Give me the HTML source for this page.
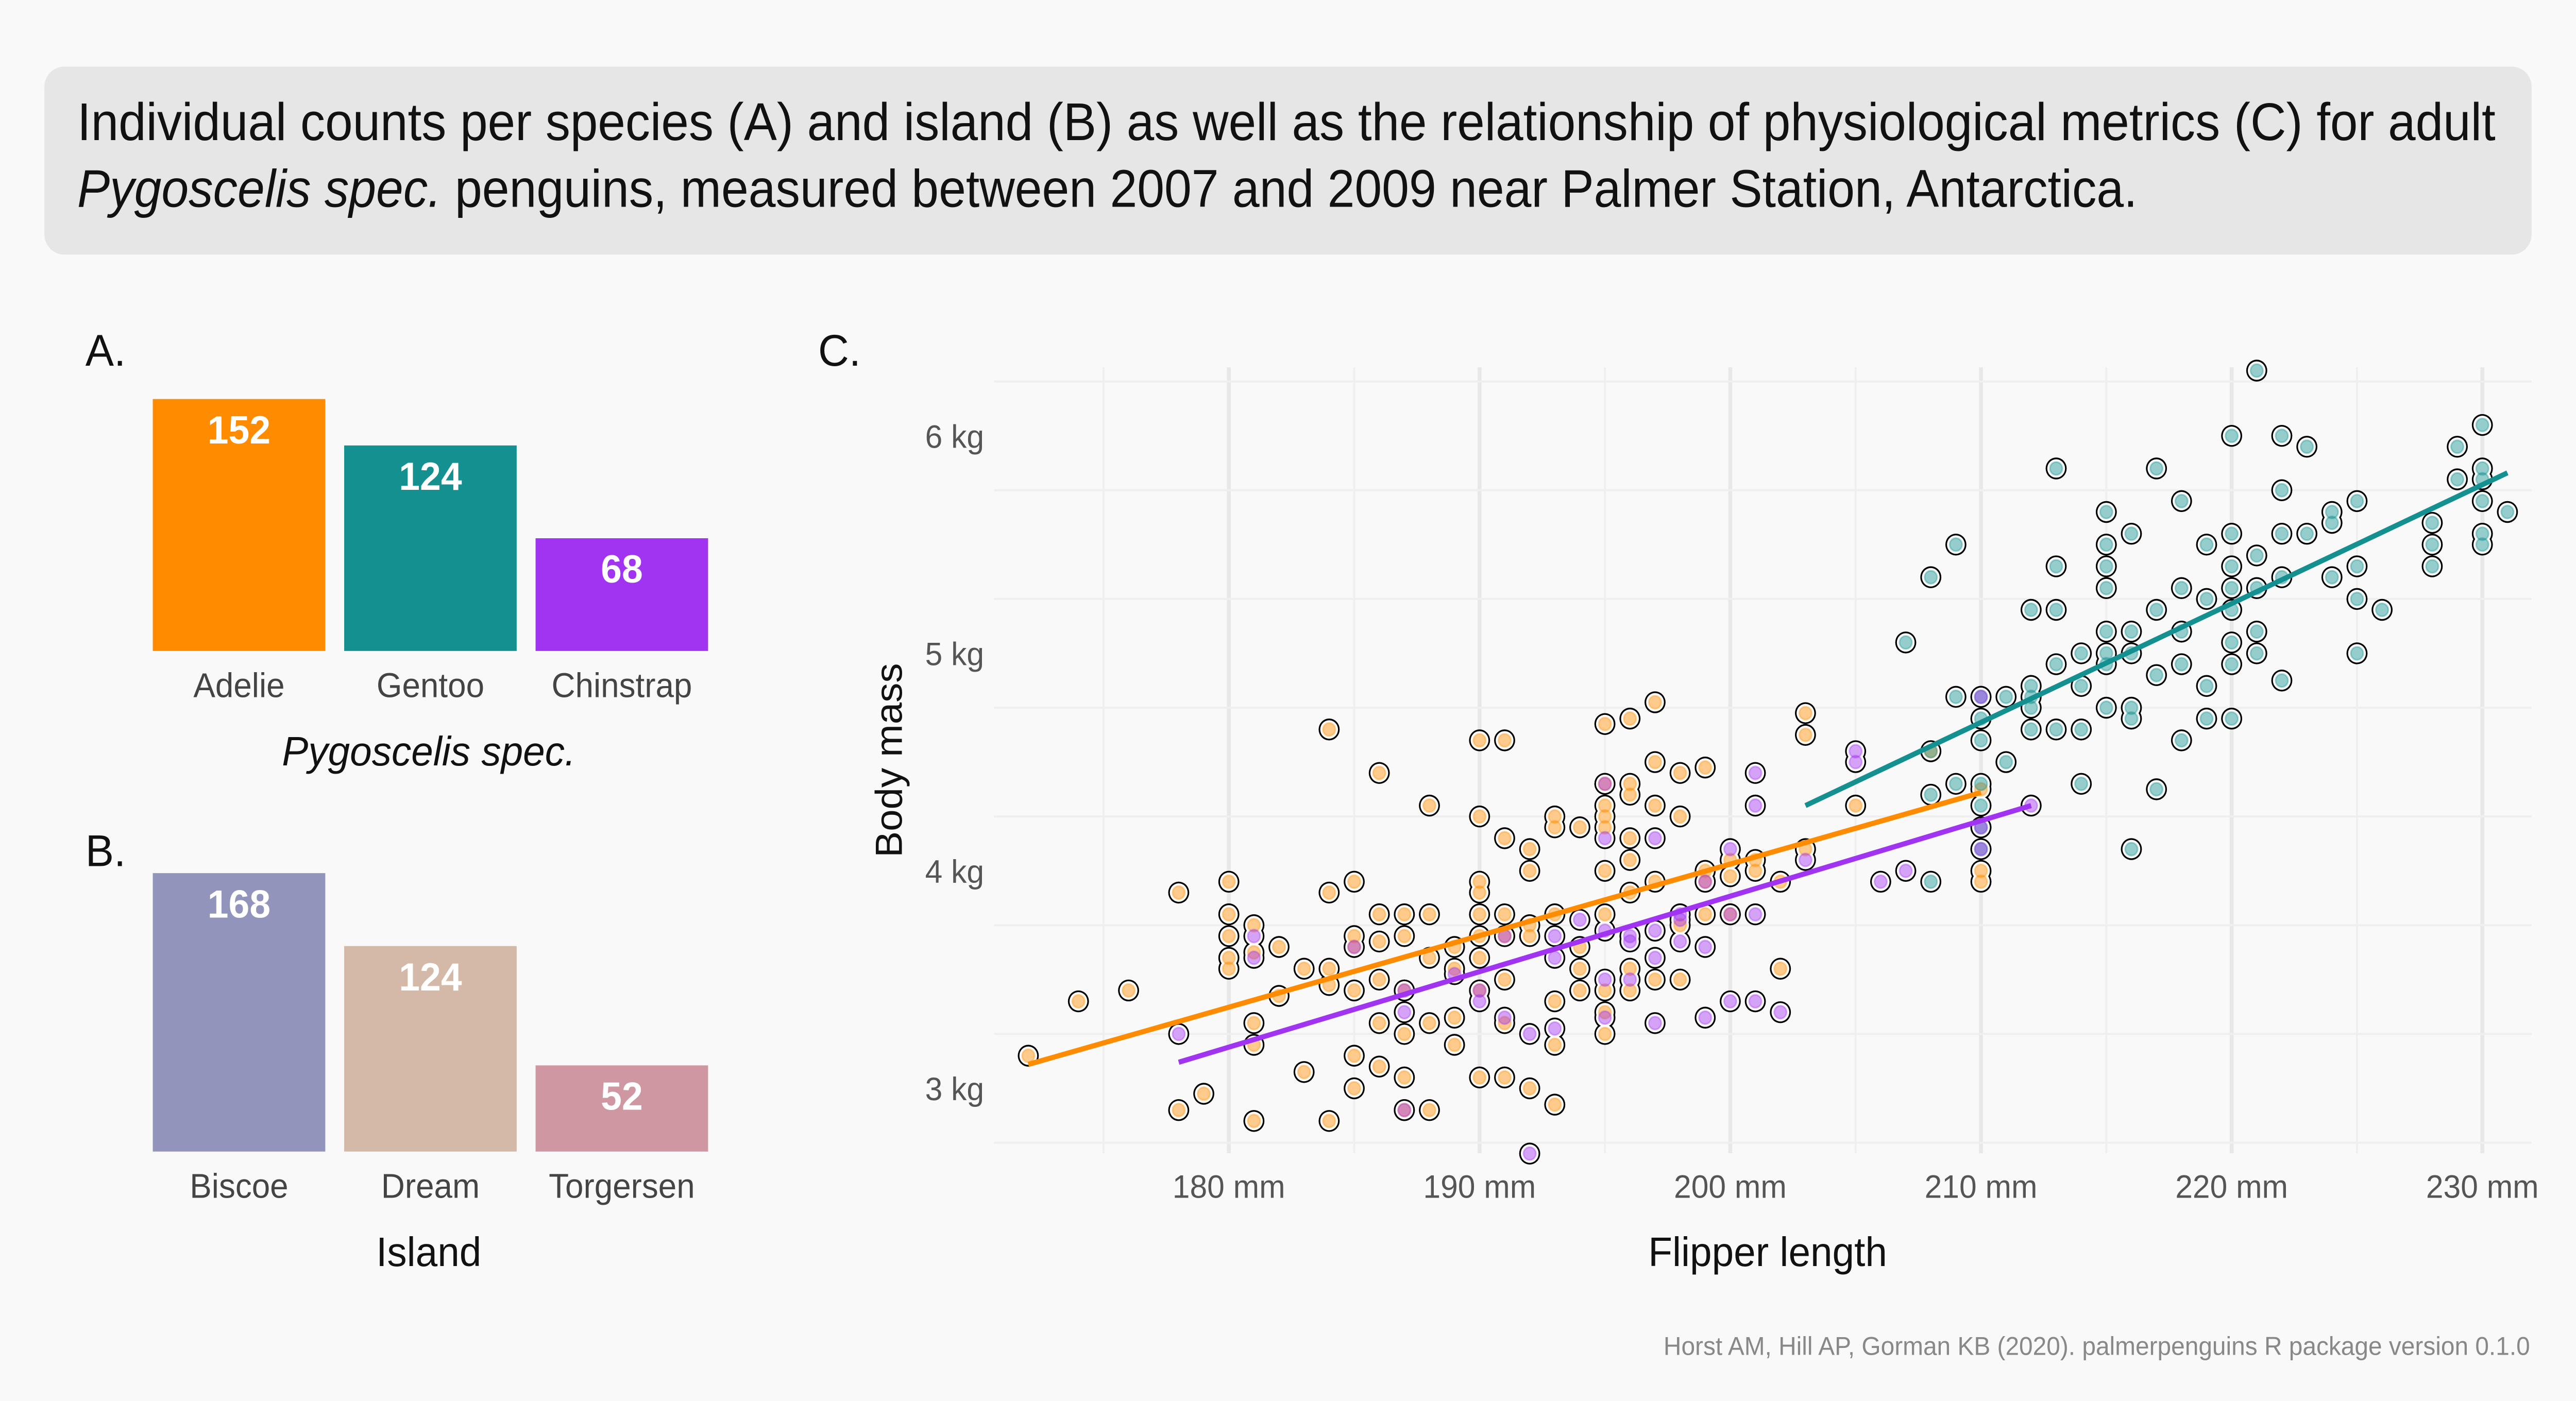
<!DOCTYPE html>
<html><head><meta charset="utf-8"><style>
html,body{margin:0;padding:0;background:#f9f9f9;overflow:hidden;width:100vw;height:100vh;}
svg{display:block;position:fixed;left:0;top:0;width:100vw;height:100vh;font-family:"Liberation Sans Narrow","Liberation Sans",sans-serif;}
</style></head><body>
<svg id="chart" viewBox="0 0 1568 820" preserveAspectRatio="none" xmlns="http://www.w3.org/2000/svg">
<rect x="0" y="0" width="1568" height="820" fill="#f9f9f9"/>
<rect x="27" y="39" width="1514" height="110" rx="12" fill="#e6e6e6"/>
<text x="47" y="82" font-size="31" fill="#111" textLength="1472" lengthAdjust="spacingAndGlyphs">Individual counts per species (A) and island (B) as well as the relationship of physiological metrics (C) for adult</text>
<text x="47" y="121" font-size="31" fill="#111" textLength="1254" lengthAdjust="spacingAndGlyphs"><tspan font-style="italic">Pygoscelis spec.</tspan> penguins, measured between 2007 and 2009 near Palmer Station, Antarctica.</text>
<text x="52" y="214" font-size="26" fill="#111">A.</text>
<text x="52" y="507" font-size="26" fill="#111">B.</text>
<text x="498" y="214" font-size="26" fill="#111">C.</text>
<g id="barsA"></g>
<g id="barsB"></g>
<g id="scatter"></g>
<text x="541" y="453" font-size="23" fill="#111" text-anchor="middle" transform="rotate(-90 541 445)">Body mass</text>
<text x="1076" y="741" font-size="24" fill="#111" text-anchor="middle">Flipper length</text>
<text x="1540" y="793" font-size="15" fill="#888" text-anchor="end">Horst AM, Hill AP, Gorman KB (2020). palmerpenguins R package version 0.1.0</text>
</svg>
<script>
const NS="http://www.w3.org/2000/svg";
const speciesCats=["Adelie","Gentoo","Chinstrap"];
const speciesCounts=[152,124,68];
const speciesColors=["#ff8c00","#159090","#a034f0"];
const islandCats=["Biscoe","Dream","Torgersen"];
const islandCounts=[168,124,52];
const islandColors=["#9394bc","#d4b9a8","#cf97a2"];

const adelie=[[172,3150],[174,3400],[176,3450],[178,3900],[178,2900],[179,2975],[180,3950],[180,3800],[180,3700],[180,3600],[180,3550],[181,3300],[181,3750],[181,3625],[181,3200],[181,2850],[182,3425],[183,3075],[183,3550],[184,3550],[184,3900],[184,4650],[184,3475],[184,2850],[185,3950],[185,3700],[185,3650],[185,3450],[185,3150],[185,3000],[186,3800],[186,3500],[186,3100],[186,4450],[186,3300],[187,3800],[187,3700],[187,3450],[187,3250],[187,2900],[187,3050],[188,4300],[188,3600],[188,3300],[188,2900],[189,3550],[189,3200],[189,3325],[190,4600],[190,4250],[190,3900],[190,3800],[190,3700],[190,3600],[190,3450],[190,3050],[190,3950],[191,4600],[191,4150],[191,3800],[191,3700],[191,3050],[191,3300],[191,3500],[192,4100],[192,4000],[192,3750],[192,3000],[193,4250],[193,4200],[193,3800],[193,3200],[193,2925],[193,3400],[194,4200],[194,3650],[194,3450],[195,4675],[195,4400],[195,4300],[195,4250],[195,4200],[195,4000],[195,3800],[195,3450],[195,3350],[195,3250],[196,4700],[196,4400],[196,4350],[196,4150],[196,4050],[196,3900],[196,3550],[196,3450],[197,4775],[197,4500],[197,4300],[197,3950],[197,3500],[198,4450],[198,4250],[198,3750],[198,3500],[199,3950],[199,4000],[199,4475],[199,3800],[200,4050],[200,3975],[200,3800],[201,4050],[201,4000],[202,3950],[202,3550],[203,4725],[203,4625],[203,4100],[205,4300],[208,4550],[210,4375],[210,4000],[210,3950],[186,3675],[189,3650],[192,3700],[188,3800],[194,3550],[182,3650]];
const gentoo=[[207,5050],[208,5350],[209,5500],[208,4550],[208,4350],[208,3950],[209,4800],[209,4400],[210,4800],[210,4700],[210,4600],[210,4400],[210,4200],[211,4500],[211,4800],[212,4800],[213,5850],[213,5400],[213,5200],[212,5200],[212,4750],[212,4650],[213,4950],[213,4650],[214,4400],[214,4650],[214,4850],[215,5650],[215,5500],[215,5400],[215,5300],[215,5100],[215,4950],[215,4750],[216,5550],[216,5000],[216,4750],[216,4700],[216,4100],[217,5850],[217,5200],[217,4900],[217,4375],[218,5700],[218,5300],[218,4950],[218,4600],[219,5500],[219,5250],[219,4850],[219,4700],[220,6000],[220,5550],[220,5400],[220,5300],[220,5200],[220,5050],[220,4950],[220,4700],[221,6300],[221,5450],[221,5300],[221,5100],[221,5000],[222,6000],[222,5750],[222,5550],[222,5350],[222,4875],[223,5950],[223,5550],[224,5650],[224,5350],[224,5600],[225,5700],[225,5400],[225,5250],[225,5000],[226,5200],[228,5600],[228,5500],[228,5400],[229,5950],[229,5800],[230,6050],[230,5850],[230,5800],[230,5700],[230,5550],[230,5500],[231,5650],[214,5000],[216,5100],[210,4300],[210,4100],[212,4850],[215,5000],[218,5100]];
const chinstrap=[[178,3250],[181,3700],[181,3600],[185,3650],[187,3450],[187,3350],[187,2900],[189,3525],[190,3450],[190,3400],[191,3700],[192,3250],[192,2700],[193,3600],[194,3775],[195,4400],[195,4150],[195,3325],[195,3500],[196,3700],[196,3500],[197,4150],[197,3300],[197,3725],[198,3675],[198,3800],[199,3325],[199,3650],[200,3400],[200,3800],[201,4450],[201,4300],[201,3800],[201,3400],[202,3350],[203,4050],[205,4550],[205,4500],[206,3950],[207,4000],[210,4800],[210,4200],[210,4100],[212,4300],[191,3325],[193,3700],[196,3675],[198,3775],[199,3950],[200,4100],[193,3275],[195,3725],[197,3600]];
const fitX=[[172,210],[203,231],[178,212]];
const fitY=[[3110,4360],[4300,5830],[3120,4300]];
const xTicks=[180,190,200,210,220,230];
const xTickLabels=["180 mm","190 mm","200 mm","210 mm","220 mm","230 mm"];
const yTicks=[3000,4000,5000,6000];
const yTickLabels=["3 kg","4 kg","5 kg","6 kg"];

function mk(tag,attrs,parent){const e=document.createElementNS(NS,tag);for(const k in attrs)e.setAttribute(k,attrs[k]);parent.appendChild(e);return e;}

function barChart(g,cats,vals,cols,base,title,italic,labelName){
  const bx=d=>93+d*116.5, bw=105, sy=v=>v*0.97;
  cats.forEach((c,i)=>{
    const h=sy(vals[i]);
    const r=mk("rect",{x:bx(i),y:base-h,width:bw,height:h,fill:cols[i]},g);
    
    
    const t=mk("text",{x:bx(i)+bw/2,y:base-h+26,"font-size":23,"font-weight":"bold",fill:"#fff","text-anchor":"middle"},g);
    t.textContent=vals[i];
    
    
    const l=mk("text",{x:bx(i)+bw/2,y:base+27,"font-size":20,fill:"#444","text-anchor":"middle"},g);
    l.textContent=c;
    
    
  });
  const tt=mk("text",{x:261,y:base+67,"font-size":24,fill:"#111","text-anchor":"middle","font-style":italic?"italic":"normal"},g);
  tt.textContent=title;
  
  
}
barChart(document.getElementById("barsA"),speciesCats,speciesCounts,speciesColors,381,"Pygoscelis spec.",true,"species-axis-title");
barChart(document.getElementById("barsB"),islandCats,islandCounts,islandColors,674,"Island",false,"island-axis-title");

const sx=v=>748+(v-180)*15.26;
const sy=v=>637-(v-3000)*0.1273;
const g=document.getElementById("scatter");
const X0=555,X1=1541,Y0=215,Y1=675;
for(let v=175;v<=230;v+=5){const major=v%10===0;const l=mk("line",{x1:sx(v),x2:sx(v),y1:Y0,y2:Y1,stroke:major?"#e8e8e8":"#efefef","stroke-width":major?2.4:1.2},g);
  
  }
for(let v=2750;v<=6250;v+=500){const major=v%1000===0;const l=mk("line",{x1:X0+50,x2:X1,y1:sy(v),y2:sy(v),stroke:major?"#e8e8e8":"#efefef","stroke-width":major?2.4:1.2},g);
  
  }
xTicks.forEach((v,i)=>{const t=mk("text",{x:sx(v),y:701,"font-size":19,fill:"#555","text-anchor":"middle"},g);t.textContent=xTickLabels[i];
  
  });
yTicks.forEach((v,i)=>{const t=mk("text",{x:599,y:sy(v)+7,"font-size":19,fill:"#555","text-anchor":"end"},g);t.textContent=yTickLabels[i];
  
  });
const series=[adelie,gentoo,chinstrap];
const all=[].concat(adelie,gentoo,chinstrap);
all.forEach(p=>{const c=mk("circle",{cx:sx(p[0]),cy:sy(p[1]),r:6.4,fill:"#000"},g);
  
  });
all.forEach(p=>{const c=mk("circle",{cx:sx(p[0]),cy:sy(p[1]),r:5.4,fill:"#fff"},g);
  
  });
series.forEach((s,si)=>{s.forEach(p=>{const c=mk("circle",{cx:sx(p[0]),cy:sy(p[1]),r:3.8,fill:speciesColors[si],"fill-opacity":0.45,stroke:speciesColors[si],"stroke-opacity":0.35,"stroke-width":1},g);
  
  });});
fitX.forEach((xs,i)=>{const l=mk("line",{x1:sx(xs[0]),y1:sy(fitY[i][0]),x2:sx(xs[1]),y2:sy(fitY[i][1]),stroke:speciesColors[i],"stroke-width":3},g);
  
  });
</script>
</body></html>
